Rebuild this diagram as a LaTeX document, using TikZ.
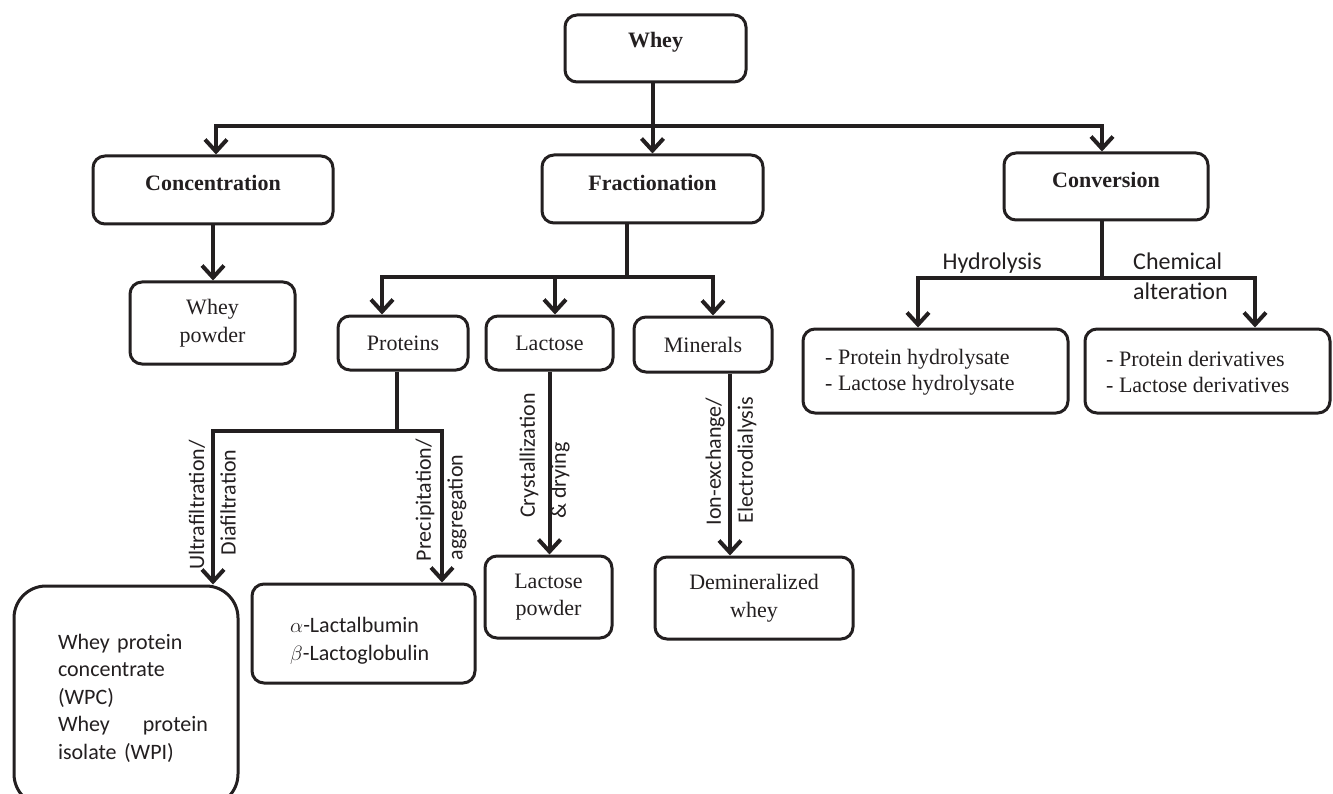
\documentclass[tikz,border=0pt]{standalone}
\usepackage{fontspec}
\setmainfont{Liberation Serif}
\newfontfamily\calib{Carlito}
\usetikzlibrary{arrows.meta}
\definecolor{ink}{RGB}{35,31,32}
\begin{document}
\begin{tikzpicture}[x=1pt,y=-1pt,
  every node/.style={text=ink},
  box/.style={draw=ink, line width=3pt, rounded corners=12pt, inner sep=0pt},
  btxt/.style={font=\fontsize{22}{26}\selectfont\bfseries, inner sep=0pt},
  rtxt/.style={font=\fontsize{22}{27.5}\selectfont, inner sep=0pt, align=center},
  ltxt/.style={font=\fontsize{22}{26.5}\selectfont, inner sep=0pt, align=left},
  lab/.style={font=\calib\fontsize{24}{30}\selectfont, inner sep=0pt},
  vlab/.style={font=\calib\fontsize{22}{26}\selectfont, inner sep=0pt, rotate=90},
  conn/.style={line width=4pt, draw=ink},
  arr/.style={conn, -{Straight Barb[length=12pt,width=22pt]}},
]
\useasboundingbox (0,0) rectangle (1333,794);
\clip (0,0) rectangle (1333,794);
\fill[white] (0,0) rectangle (1333,794);

% top level
\node[box, minimum width=181pt, minimum height=67pt] (whey) at (655.5,48.5) {};
\node[btxt] (wheyt) at (655.5,42) {Whey};
\node[box, minimum width=240pt, minimum height=68pt] (conc) at (213,190) {};
\node[btxt] (conct) at (213,183) {Concentration};
\node[box, minimum width=221pt, minimum height=68pt] (frac) at (652.5,189) {};
\node[btxt] (fract) at (652.5,183) {Fractionation};
\node[box, minimum width=204pt, minimum height=67pt] (conv) at (1106,186.5) {};
\node[btxt] (convt) at (1106,180) {Conversion};

% second level
\node[box, rtxt, minimum width=165pt, minimum height=82pt] (wpow) at (212.5,323) {Whey\\powder};
\node[box, rtxt, minimum width=130pt, minimum height=54pt] (prot) at (403,343) {Proteins};
\node[box, rtxt, minimum width=127pt, minimum height=54pt] (lact) at (549.5,343) {Lactose};
\node[box, rtxt, minimum width=138pt, minimum height=55pt] (min) at (703,344.5) {Minerals};
\node[box, minimum width=265pt, minimum height=84pt] (hyd) at (935.5,371) {};
\node[ltxt, anchor=west] (hydt) at (825,372) {- Protein hydrolysate\\- Lactose hydrolysate};
\node[box, minimum width=245pt, minimum height=84pt] (der) at (1207.5,371) {};
\node[ltxt, anchor=west] (dert) at (1106,372) {- Protein derivatives\\- Lactose derivatives};

% third level
\node[box, rtxt, minimum width=127pt, minimum height=82pt] (lpow) at (548.5,597) {Lactose\\powder};
\node[box, rtxt, minimum width=198pt, minimum height=82pt] (demin) at (754,598) {Demineralized\\whey};
\node[box, rounded corners=32pt, minimum width=224pt, minimum height=220pt] (wpc) at (126,696) {};
\node[font=\calib\fontsize{22}{27.5}\selectfont, inner sep=0pt, align=left, text width=150pt] (wpct) at (133,698)
  {Whey protein\\concentrate\\(WPC)\\\leavevmode\hbox to 150pt{Whey\hfill protein}\\isolate (WPI)};
\node[box, minimum width=223pt, minimum height=99pt] (lac) at (363.5,633.5) {};
\node[font=\calib\fontsize{22}{28}\selectfont, inner sep=0pt, align=left, anchor=west] (lact2) at (290,641)
  {$\alpha$-Lactalbumin\\$\beta$-Lactoglobulin};

% connectors
\coordinate (b0) at (652.5,126);
\draw[arr] (whey.south -| frac.north) -- (frac.north);
\draw[arr] (b0) -| ([xshift=3pt]conc.north);
\draw[arr] (b0) -| ([xshift=-4pt]conv.north);
\draw[arr] (conc.south) -- (conc.south |- wpow.north);

\coordinate (f1) at (627,277);
\draw[conn] (frac.south -| f1) -- (f1);
\draw[arr] (f1) -| ([xshift=-21pt]prot.north);
\draw[arr] (f1) -| ([xshift=5.5pt]lact.north);
\draw[arr] (f1) -| ([xshift=10pt]min.north);

\coordinate (p1) at (397,431);
\draw[conn] (prot.south -| p1) -- (p1);
\draw[arr] (p1) -| ([xshift=87pt]wpc.north);
\draw[arr] (p1) -| ([xshift=78.5pt]lac.north);
\draw[arr] (lact.south) -- (lact.south |- lpow.north);
\draw[arr] ([xshift=27pt]min.south) -- ([xshift=27pt]min.south |- demin.north);

\coordinate (c1) at (1102,278);
\draw[conn] (conv.south -| c1) -- (c1);
\draw[arr] (c1) -| ([xshift=-17.5pt]hyd.north);
\draw[arr] (c1) -| ([xshift=47.5pt]der.north);

% labels
\node[lab, anchor=base east] (hl) at (1042,270) {Hydrolysis};
\node[lab, anchor=base west] (cl1) at (1133,270) {Chemical};
\node[lab, anchor=base west] (cl2) at (1133,300) {alteration};
\node[vlab] (v1) at (529,455.5) {Crystallization};
\node[vlab] (v2) at (560,480.5) {\& drying};
\node[vlab] (v3) at (715,461.5) {Ion-exchange/};
\node[vlab] (v4) at (747,460) {Electrodialysis};
\node[vlab] (v5) at (197,505) {Ultrafiltration/};
\node[vlab] (v6) at (228,502.5) {Diafiltration};
\node[vlab] (v7) at (425,500) {Precipitation/};
\node[vlab] (v8) at (457,507.5) {aggregation};
\end{tikzpicture}
\end{document}
